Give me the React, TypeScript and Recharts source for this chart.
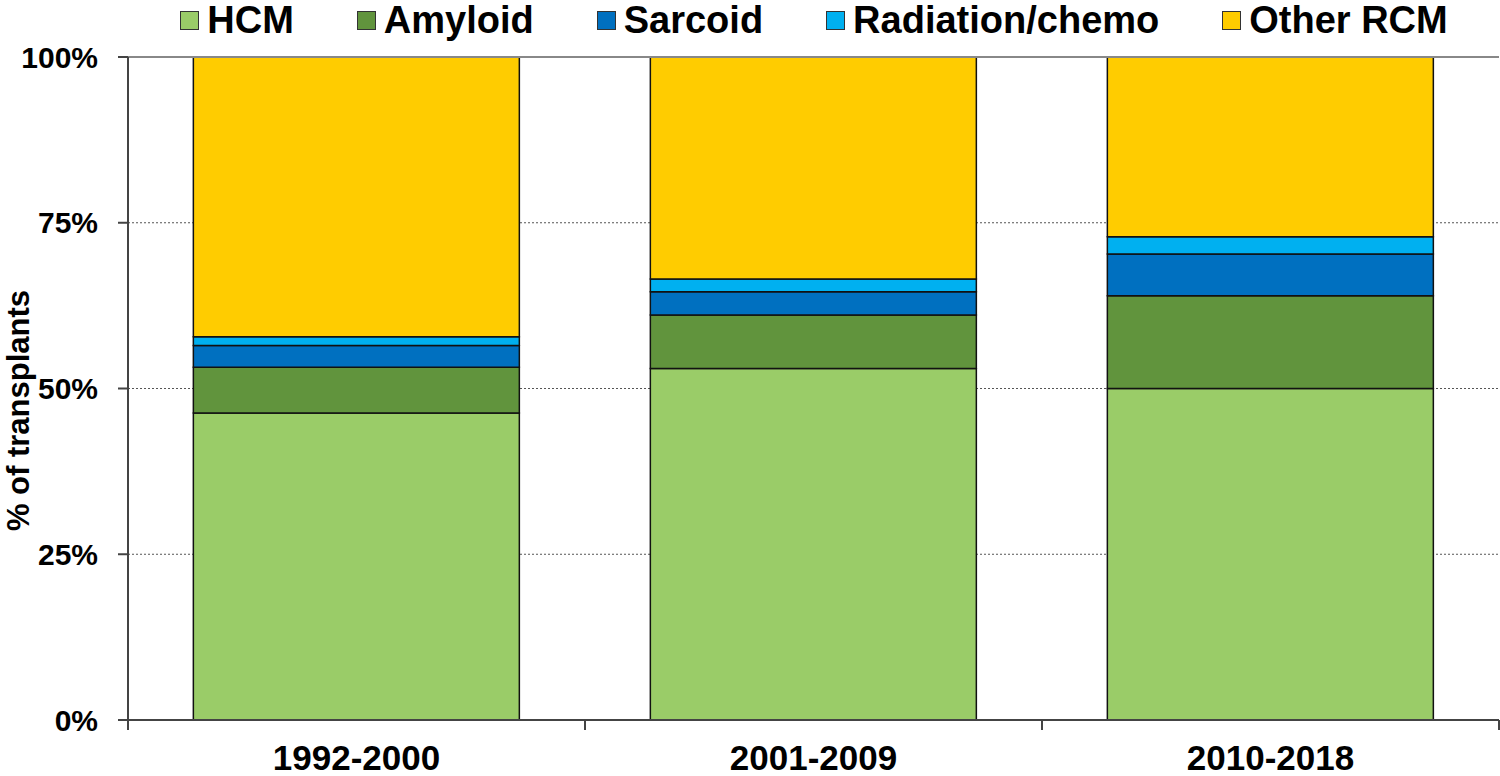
import {
  BarChart,
  Bar,
  XAxis,
  YAxis,
  CartesianGrid,
  Legend,
  ReferenceLine,
} from 'recharts';

const periods = ['1992-2000', '2001-2009', '2010-2018'];
const hcm = [46.3, 53.0, 50.0];
const amyloid = [6.9, 8.1, 14.0];
const sarcoid = [3.3, 3.5, 6.3];
const radiation = [1.3, 1.9, 2.6];
const otherRcm = [42.2, 33.5, 27.1];
const yTicks = [0, 25, 50, 75, 100];

const series = [
  { key: 'hcm', name: 'HCM', color: '#9ACC68' },
  { key: 'amyloid', name: 'Amyloid', color: '#61943D' },
  { key: 'sarcoid', name: 'Sarcoid', color: '#0070C0' },
  { key: 'radiation', name: 'Radiation/chemo', color: '#00B0F0' },
  { key: 'other', name: 'Other RCM', color: '#FFCC00' },
];

const data = periods.map((period, i) => ({
  period,
  hcm: hcm[i],
  amyloid: amyloid[i],
  sarcoid: sarcoid[i],
  radiation: radiation[i],
  other: otherRcm[i],
}));

const FONT = '"Liberation Sans", Arial, sans-serif';
const X_TICK_MARGIN = 25;

const LegendRow = () => (
  <div
    style={{
      display: 'flex',
      justifyContent: 'center',
      alignItems: 'center',
      gap: 63,
      paddingLeft: 128,
      height: 40,
      fontFamily: FONT,
      fontWeight: 700,
      fontSize: 38,
      lineHeight: '36px',
      color: '#000',
      boxSizing: 'border-box',
    }}
  >
    {series.map((s) => (
      <div key={s.key} style={{ display: 'flex', alignItems: 'center', height: 36 }}>
        <span
          style={{
            display: 'inline-block',
            width: 17,
            height: 17,
            background: s.color,
            border: '1.5px solid #333',
            marginRight: 8,
          }}
        />
        <span>{s.name}</span>
      </div>
    ))}
  </div>
);

const YLabel = ({ viewBox }: any) => {
  const cx = (viewBox?.x ?? 0) + 18;
  const cy = (viewBox?.y ?? 0) + (viewBox?.height ?? 0) / 2 + 22;
  return (
    <text
      x={cx}
      y={cy}
      transform={`rotate(-90 ${cx} ${cy})`}
      textAnchor="middle"
      dominantBaseline="central"
      style={{ fontFamily: FONT, fontWeight: 700, fontSize: 31, fill: '#000' }}
    >
      % of transplants
    </text>
  );
};

// category label plus tick marks on the band boundaries
const PeriodTick = ({ x, y, payload, index, visibleTicksCount }: any) => {
  const half = payload?.offset ?? (1371 / 3 / 2);
  const axisY = y - X_TICK_MARGIN;
  const isLast = index === (visibleTicksCount ?? periods.length) - 1;
  return (
    <g>
      <line x1={x - half} x2={x - half} y1={axisY} y2={axisY + 10} stroke="#444" strokeWidth={2} />
      {isLast && (
        <line x1={x + half} x2={x + half} y1={axisY} y2={axisY + 10} stroke="#444" strokeWidth={2} />
      )}
      <text
        x={x}
        y={y}
        dy="0.71em"
        textAnchor="middle"
        style={{ fontFamily: FONT, fontWeight: 700, fontSize: 35, fill: '#000' }}
      >
        {payload.value}
      </text>
    </g>
  );
};

export default function App() {
  return (
    <div style={{ position: 'absolute', left: 0, top: 0, background: '#fff' }}>
      <BarChart
        width={1500}
        height={776}
        data={data}
        margin={{ top: 17, right: 1, bottom: 0, left: 0 }}
        barCategoryGap="14.3%"
      >
        <CartesianGrid vertical={false} horizontal stroke="#555" strokeDasharray="2 2" />
        <Legend
          verticalAlign="top"
          align="left"
          wrapperStyle={{ top: 0, left: 0, width: 1500 }}
          content={() => <LegendRow />}
        />
        <XAxis
          dataKey="period"
          height={56}
          axisLine={{ stroke: '#444', strokeWidth: 2 }}
          tickLine={false}
          tickSize={0}
          tickMargin={X_TICK_MARGIN}
          interval={0}
          tick={<PeriodTick />}
        />
        <YAxis
          width={128}
          domain={[0, 100]}
          ticks={yTicks}
          tickFormatter={(v) => `${v}%`}
          tickSize={10}
          tickMargin={20}
          axisLine={{ stroke: '#444', strokeWidth: 2 }}
          tickLine={{ stroke: '#444', strokeWidth: 2 }}
          tick={{ fontFamily: FONT, fontWeight: 700, fontSize: 30, fill: '#000' }}
          label={<YLabel />}
        />
        <ReferenceLine y={100} stroke="#888" strokeWidth={2} />
        {series.map((s) => (
          <Bar
            key={s.key}
            dataKey={s.key}
            name={s.name}
            stackId="a"
            fill={s.color}
            stroke="#111"
            strokeWidth={1.5}
            isAnimationActive={false}
          />
        ))}
      </BarChart>
    </div>
  );
}
